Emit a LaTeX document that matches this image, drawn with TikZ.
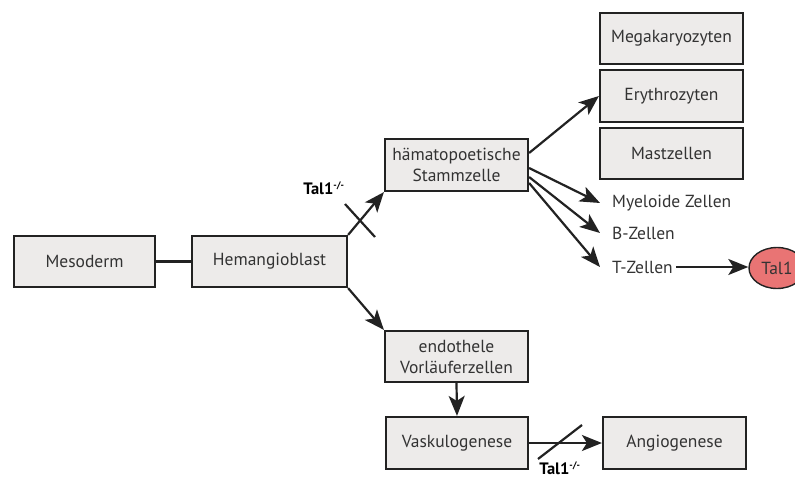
\documentclass[tikz,border=0pt]{standalone}
\usepackage{fontspec}
\setmainfont{PT Sans}
\usetikzlibrary{arrows.meta,shapes.geometric}
\definecolor{boxfill}{HTML}{EDEBEA}
\definecolor{edge}{HTML}{222222}
\definecolor{txt}{HTML}{333333}
\definecolor{talred}{HTML}{E97474}
\begin{document}
\begin{tikzpicture}[x=1pt,y=-1pt,
  cell/.style={draw=edge,fill=boxfill,line width=2.2pt,minimum height=51pt,minimum width=143pt,
    inner sep=0pt,align=center,text=txt,font=\fontsize{17.5}{21}\selectfont},
  lbl/.style={text=txt,font=\fontsize{17.5}{21}\selectfont,anchor=west,inner sep=0pt},
  conn/.style={draw=edge,line width=2.2pt},
  arr/.style={conn,-{Stealth[length=20pt,width=16pt,inset=5pt]}},
  tal/.style={font=\fontsize{16.5}{19}\selectfont\bfseries,text=black,inner sep=0pt}]
\useasboundingbox (0,0) rectangle (795,479);
\node[cell,minimum width=141pt] (meso) at (84.5,261.5) {Mesoderm};
\node[cell,minimum width=155pt] (hem) at (269.5,261.5) {Hemangioblast};
\node[cell,minimum height=52pt] (hsc) at (456.5,165) {hämatopoetische\\Stammzelle};
\node[cell] (mega) at (671.5,38.5) {Megakaryozyten};
\node[cell,minimum height=52pt] (ery) at (671.5,96) {Erythrozyten};
\node[cell] (mast) at (671.5,153.5) {Mastzellen};
\node[lbl] (mye) at (612,203) {Myeloide Zellen};
\node[lbl] (bz) at (612,233) {B-Zellen};
\node[lbl] (tz) at (612,267) {T-Zellen};
\node[ellipse,draw=edge,fill=talred,line width=1.4pt,minimum width=56pt,minimum height=41pt,inner sep=0pt,
  text=txt,font=\fontsize{17.5}{21}\selectfont] (tal) at (777,268) {Tal1};
\node[cell] (endo) at (456.5,356.5) {endothele\\Vorläuferzellen};
\node[cell,minimum width=142pt,minimum height=52pt] (vask) at (457,443) {Vaskulogenese};
\node[cell,minimum height=52pt] (angio) at (674.5,443) {Angiogenese};
\node[tal] (t1) at (324,188) {Tal1\textsuperscript{\fontsize{9.5}{9.5}\selectfont -/-}};
\node[tal] (t2) at (560,468) {Tal1\textsuperscript{\fontsize{9.5}{9.5}\selectfont -/-}};
% connectors
\draw[conn] (meso.east) -- (hem.west);
\draw[arr] (hem.north east) -- (hsc.south west);
\draw[arr] (hem.south east) -- (endo.north west);
\draw[arr] (endo.south) -- (vask.north);
\draw[arr] (vask.east) -- (angio.west);
\draw[arr] ([yshift=12pt]hsc.east) -- (ery.west);
\draw[arr] ([yshift=-3pt]hsc.east) -- ([xshift=-12pt]mye.west);
\draw[arr] ([yshift=-12pt]hsc.east) -- ([xshift=-12pt]bz.west);
\draw[arr] ([yshift=-18pt]hsc.east) -- ([xshift=-12pt]tz.west);
\draw[arr] ([xshift=3pt]tz.east) -- (tz.east -| tal.west);
% block marks
\draw[conn] (345,204) -- (375,237);
\draw[conn] (538,459) -- (582,425);
\end{tikzpicture}
\end{document}
